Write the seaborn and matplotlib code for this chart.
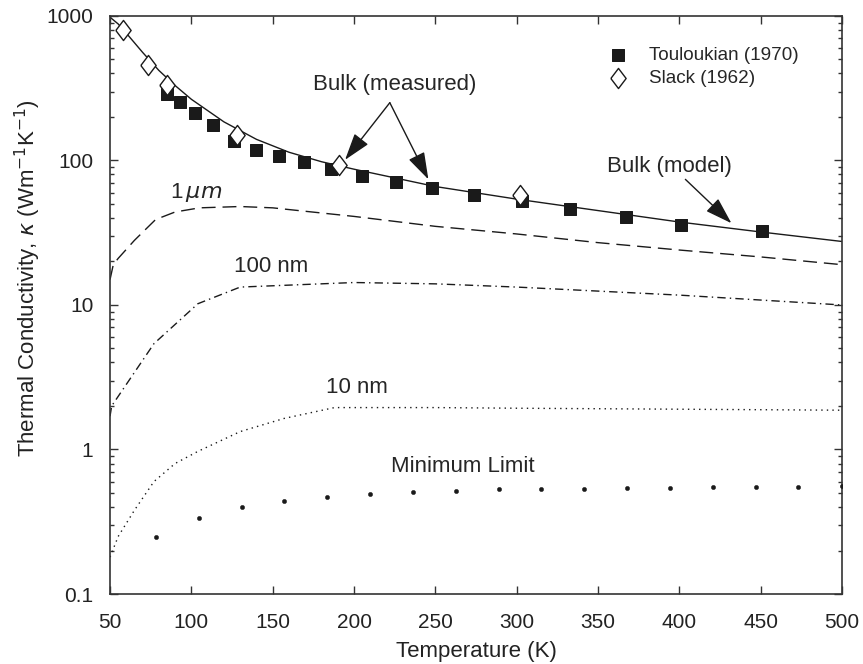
import numpy as np
import pandas as pd
import matplotlib
matplotlib.use("Agg")
import matplotlib.pyplot as plt
import seaborn as sns

# bulk model curve
bulk_T = [50, 55, 60, 70, 80, 90, 100, 120, 140, 160, 180, 200, 250, 300, 350, 400, 450, 500]
bulk_k = [980, 880, 760, 560, 420, 330, 265, 185, 140, 114, 98, 87, 66, 54, 45, 37.5, 32, 27.5]

# thin film curves
um1_T = [50, 52, 55, 65, 78, 90, 105, 130, 150, 200, 250, 300, 350, 400, 450, 500]
um1_k = [15, 19, 21, 28, 39, 44, 47, 48, 47, 41, 35, 31, 27, 24, 21.5, 19]

nm100_T = [50, 51, 77, 104, 130, 200, 250, 300, 400, 500]
nm100_k = [1.7, 2.0, 5.4, 10.2, 13.3, 14.3, 14.0, 13.3, 11.7, 10.0]

nm10_T = [50, 55, 65, 77, 90, 104, 130, 157, 188, 250, 300, 400, 500]
nm10_k = [0.18, 0.25, 0.38, 0.6, 0.8, 0.97, 1.33, 1.64, 1.95, 1.95, 1.93, 1.9, 1.87]

# minimum limit
min_T = [78, 104.5, 131, 157, 183.5, 210, 236, 262.5, 289, 315, 341.5, 368, 394, 420.5, 447, 473, 500]
min_k = [0.247, 0.334, 0.398, 0.438, 0.466, 0.49, 0.505, 0.515, 0.53, 0.535, 0.537,
         0.54, 0.545, 0.548, 0.55, 0.553, 0.555]

# measured data
tou_T = [85, 93, 102.5, 113, 126.5, 140, 154, 169, 186, 205, 226, 248, 274, 303, 333, 367, 401, 451]
tou_k = [290, 255, 214, 177, 137, 119, 108, 97, 87, 77.6, 70.5, 64, 57.6, 52, 45.9, 40.5, 35.7, 32.4]

slack_T = [58, 73.5, 85, 128, 191, 302]
slack_k = [800, 459, 334, 149, 92.5, 58]

sns.set_theme(style="ticks")
plt.rcParams["font.family"] = ["Liberation Sans", "DejaVu Sans"]
plt.rcParams["mathtext.fontset"] = "dejavusans"

fig = plt.figure(figsize=(8.63, 6.64), dpi=100)
ax = fig.add_axes([0.1275, 0.1054, 0.8482, 0.8706])

sns.lineplot(x=bulk_T, y=bulk_k, color="k", lw=1.0, ax=ax)
sns.lineplot(x=um1_T, y=um1_k, color="k", lw=1.0, ax=ax, linestyle=(0, (10, 5)))
sns.lineplot(x=nm100_T, y=nm100_k, color="k", lw=1.0, ax=ax, linestyle=(0, (6, 3, 1, 3)))
sns.lineplot(x=nm10_T, y=nm10_k, color="k", lw=1.0, ax=ax, linestyle=(0, (1, 3)))

diamond = [(-0.38, 0), (0, 0.5), (0.38, 0), (0, -0.5), (-0.38, 0)]

sns.scatterplot(x=min_T, y=min_k, color="k", s=10, marker="o", edgecolor="k", ax=ax, zorder=4)
sns.scatterplot(x=tou_T, y=tou_k, color="k", marker="s", s=80, edgecolor="k",
                label="Touloukian (1970)", ax=ax, zorder=5)
sns.scatterplot(x=slack_T, y=slack_k, color="white", marker=diamond, s=210, edgecolor="k",
                linewidth=1.0, label="Slack (1962)", ax=ax, zorder=6)

ax.set_yscale("log")
ax.set_xlim(50, 500)
ax.set_ylim(0.1, 1000)
ax.set_xticks(np.arange(50, 501, 50))
ax.set_yticks([0.1, 1, 10, 100, 1000])
ax.set_yticklabels(["0.1", "1", "10", "100", "1000"])
ax.tick_params(which="both", direction="in", top=True, right=True, labelsize=15,
               width=1, color="#333333", labelcolor="#222222")
ax.tick_params(which="major", length=5.5)
ax.tick_params(which="minor", length=3)
ax.tick_params(axis="x", pad=14)
ax.tick_params(axis="y", pad=12)
for sp in ax.spines.values():
    sp.set_linewidth(1.2)
    sp.set_color("#333333")

ax.set_xlabel("Temperature (K)", fontsize=16, labelpad=6, color="#222222")
ax.set_ylabel(r"Thermal Conductivity, $\kappa$ (Wm$^{-1}$K$^{-1}$)", fontsize=16, color="#222222")
ax.yaxis.set_label_coords(-0.092, 0.547)

ax.legend(loc="upper left", bbox_to_anchor=(0.681, 0.946), frameon=False, fontsize=13.6,
          handlelength=1.0, handletextpad=1.14, labelspacing=0.26, borderpad=0, borderaxespad=0)

fs = 16
ax.text(225, 334, "Bulk (measured)", ha="center", va="center", fontsize=fs)
arrow = dict(arrowstyle="-|>,head_length=1.4,head_width=0.45", color="k", lw=1.0, shrinkA=0, shrinkB=0)
ax.annotate("", xy=(194.5, 101), xytext=(222, 251), arrowprops=arrow)
ax.annotate("", xy=(245.7, 74), xytext=(222, 251), arrowprops=arrow)
ax.text(394, 91, "Bulk (model)", ha="center", va="center", fontsize=fs)
ax.annotate("", xy=(432, 36.8), xytext=(403.7, 74), arrowprops=arrow)

ax.text(103, 60, r"1$\,\mu m$", ha="center", va="center", fontsize=fs)
ax.text(149, 18.6, "100 nm", ha="center", va="center", fontsize=fs)
ax.text(202, 2.7, "10 nm", ha="center", va="center", fontsize=fs)
ax.text(267, 0.764, "Minimum Limit", ha="center", va="center", fontsize=fs)

fig.savefig("out.png", dpi=100)
